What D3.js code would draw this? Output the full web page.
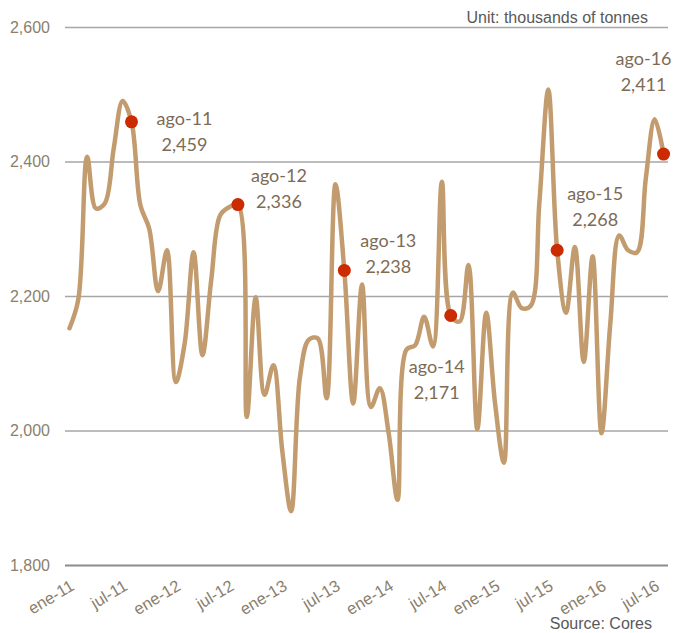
<!DOCTYPE html>
<html>
<head>
<meta charset="utf-8">
<script src="https://cdn.jsdelivr.net/npm/d3@7"></script>
<style>
  body { margin: 0; background: #fff; }
  svg { display: block; }
</style>
</head>
<body>
<div id="chart"></div>
<script>
var W = 675, H = 633;
var margin = {top: 27, right: 7, bottom: 68, left: 65};

// months ene-11 .. ago-16
var monthNames = ['ene','feb','mar','abr','may','jun','jul','ago','sep','oct','nov','dic'];
var years = ['11','12','13','14','15','16'];
var months = [];
for (var yy = 0; yy < years.length; yy++) {
  for (var mm = 0; mm < 12; mm++) {
    if (years[yy] == '16' && mm > 7) break;
    months.push(monthNames[mm] + '-' + years[yy]);
  }
}

// thousands of tonnes
var values = [
  2152, 2195, 2407, 2330, 2338, 2420, 2490, 2459, 2335, 2300, 2207, 2268,
  2072, 2130, 2265, 2112, 2225, 2320, 2332, 2336, 2020, 2198, 2053, 2097,
  1970, 1880, 2080, 2135, 2137, 2048, 2366, 2238, 2040, 2217, 2035, 2063,
  1996, 1897, 2120, 2127, 2169, 2125, 2370, 2171, 2162, 2246, 2002, 2175,
  2040, 1952, 2205, 2182, 2185, 2340, 2507, 2268, 2175, 2273, 2102, 2259,
  1996, 2160, 2290, 2268, 2265, 2375, 2463, 2411
];

var highlights = ['ago-11','ago-12','ago-13','ago-14','ago-15','ago-16'];
var xTicks = ['ene-11','jul-11','ene-12','jul-12','ene-13','jul-13','ene-14','jul-14','ene-15','jul-15','ene-16','jul-16'];
var yTicks = [1800, 2000, 2200, 2400, 2600];

// label placement relative to its dot (px): centre x, first baseline
var labelOffsets = [[53, 3], [41, -23], [44, -23], [-14, 57], [38, -50], [-20, -89]];

var svg = d3.select('#chart').append('svg')
  .attr('width', W)
  .attr('height', H);

var x = d3.scaleBand()
  .domain(months)
  .range([margin.left, W - margin.right]);

var y = d3.scaleLinear()
  .domain([1800, 2600])
  .range([H - margin.bottom, margin.top]);

function cx(m) { return x(m) + x.bandwidth() / 2; }

// gridlines + y labels
var yAxis = svg.append('g')
  .attr('transform', 'translate(' + margin.left + ',0)')
  .call(d3.axisLeft(y)
    .tickValues(yTicks)
    .tickSize(-(W - margin.left - margin.right))
    .tickPadding(15)
    .tickFormat(d3.format(',')));
yAxis.select('.domain').remove();
yAxis.selectAll('line')
  .attr('stroke', function(d) { return d == 1800 ? '#8c8c8c' : '#a6a6a6'; })
  .attr('stroke-width', function(d) { return d == 1800 ? 2 : 1.5; });
yAxis.selectAll('text')
  .attr('fill', '#8b7f6c')
  .attr('font-family', 'Liberation Sans, Arial, sans-serif')
  .attr('font-size', 16);

// x labels
var xAxis = svg.append('g')
  .attr('transform', 'translate(0,' + (H - margin.bottom) + ')')
  .call(d3.axisBottom(x).tickValues(xTicks).tickSize(0));
xAxis.select('.domain').remove();
xAxis.selectAll('text')
  .attr('y', 0)
  .attr('dy', 0)
  .attr('text-anchor', 'end')
  .attr('transform', 'translate(6,24) rotate(-31)')
  .attr('fill', '#8b7f6c')
  .attr('font-family', 'Liberation Sans, Arial, sans-serif')
  .attr('font-size', 16.5);

// smoothed line
var line = d3.line()
  .x(function(d, i) { return cx(months[i]); })
  .y(function(d) { return y(d); })
  .curve(d3.curveCatmullRom.alpha(0.5));

svg.append('path')
  .datum(values)
  .attr('fill', 'none')
  .attr('stroke', '#c29c6e')
  .attr('stroke-width', 4.5)
  .attr('stroke-linejoin', 'round')
  .attr('stroke-linecap', 'round')
  .attr('d', line);

// highlighted points
var hl = highlights.map(function(m, k) {
  var i = months.indexOf(m);
  return {month: m, value: values[i], off: labelOffsets[k]};
});

svg.selectAll('.dot')
  .data(hl)
  .join('circle')
  .attr('class', 'dot')
  .attr('cx', function(d) { return cx(d.month); })
  .attr('cy', function(d) { return y(d.value); })
  .attr('r', 6.5)
  .attr('fill', '#cc2a00');

var lab = svg.selectAll('.lab')
  .data(hl)
  .join('text')
  .attr('class', 'lab')
  .attr('text-anchor', 'middle')
  .attr('fill', '#7d6b55')
  .attr('font-family', 'Lato, Open Sans, sans-serif')
  .attr('font-size', 18);
lab.append('tspan')
  .attr('x', function(d) { return cx(d.month) + d.off[0]; })
  .attr('y', function(d) { return y(d.value) + d.off[1]; })
  .text(function(d) { return d.month; });
lab.append('tspan')
  .attr('x', function(d) { return cx(d.month) + d.off[0]; })
  .attr('y', function(d) { return y(d.value) + d.off[1] + 26; })
  .text(function(d) { return d3.format(',')(d.value); });

// unit + source
svg.append('text')
  .attr('x', 648)
  .attr('y', 23)
  .attr('text-anchor', 'end')
  .attr('fill', '#595959')
  .attr('font-family', 'Liberation Sans, Arial, sans-serif')
  .attr('font-size', 16)
  .text('Unit: thousands of tonnes');

svg.append('text')
  .attr('x', 652)
  .attr('y', 629)
  .attr('text-anchor', 'end')
  .attr('fill', '#595959')
  .attr('font-family', 'Liberation Sans, Arial, sans-serif')
  .attr('font-size', 16)
  .text('Source: Cores');
</script>
</body>
</html>
